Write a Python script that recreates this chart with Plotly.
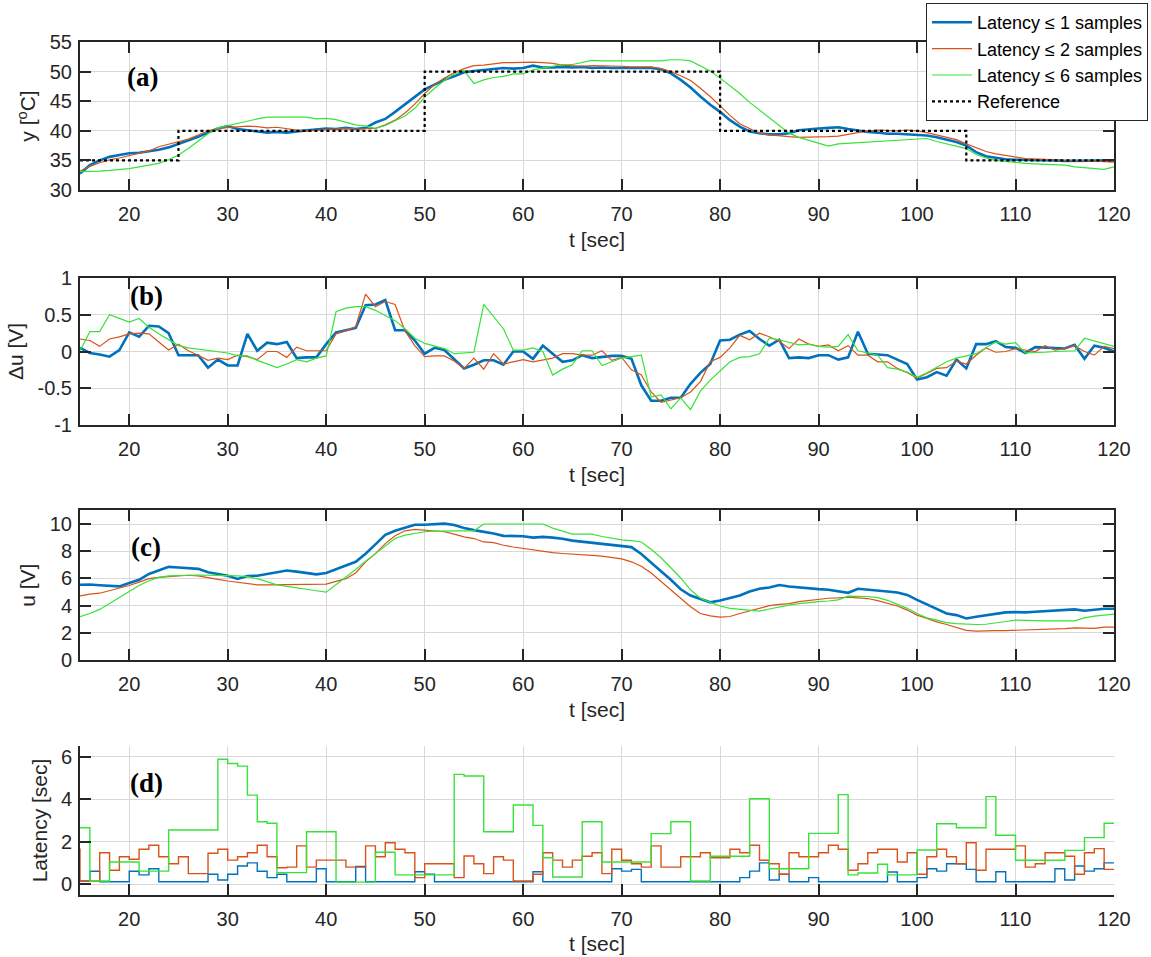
import plotly.graph_objects as go

W, H = 1151, 957
t = list(range(15, 121))

# ---------------- (a) output temperature y [degC] ----------------
y_lat1 = [32.8, 34.2, 35.0, 35.6, 35.9, 36.2, 36.3, 36.5, 36.8, 37.2,
          37.8, 38.3, 39.0, 39.7, 40.4, 40.8, 40.3, 40.1, 39.9, 39.7,
          39.8, 39.7, 39.9, 40.1, 40.3, 40.4, 40.3, 40.5, 40.3, 40.5,
          41.4, 42.0, 43.2, 44.5, 45.8, 47.0, 47.8, 48.6, 49.2, 49.9,
          50.1, 50.3, 50.5, 50.6, 50.5, 50.6, 51.0, 50.7, 50.7, 50.8,
          50.7, 50.8, 50.6, 50.7, 50.6, 50.6, 50.5, 50.6, 50.6, 50.4,
          49.7, 48.6, 47.3, 45.8, 44.4, 43.2, 41.8, 40.7, 39.9, 39.6,
          39.4, 39.4, 39.6, 40.1, 40.3, 40.4, 40.5, 40.6, 40.3, 40.0,
          39.8, 39.7, 39.5, 39.5, 39.4, 39.4, 39.2, 38.9, 38.5, 38.1,
          37.5, 36.4, 35.7, 35.4, 35.2, 35.1, 35.1, 35.0, 35.0, 35.0,
          34.9, 34.9, 34.9, 34.9, 34.9, 35.0]
y_lat2 = [33.2, 34.0, 34.6, 35.1, 35.4, 35.8, 36.2, 36.6, 37.3, 37.7,
          38.1, 38.6, 39.3, 40.0, 40.4, 40.5, 40.6, 40.8, 40.7, 40.5,
          40.6, 40.3, 40.1, 40.0, 40.1, 40.1, 40.2, 40.4, 40.3, 40.3,
          40.4, 41.0, 41.8, 43.0, 44.5, 46.3, 47.8, 48.9, 49.8, 50.5,
          51.0, 51.1, 51.3, 51.5, 51.5, 51.6, 51.6, 51.5, 51.4, 51.1,
          51.0, 50.9, 51.0, 51.0, 50.9, 50.9, 50.8, 50.8, 50.8, 50.5,
          50.0, 49.3, 48.5, 47.2, 45.8, 44.2, 42.6, 41.2, 40.4, 39.6,
          39.3, 39.1, 39.0, 38.9, 38.9, 38.9, 39.0, 39.1, 39.4, 39.8,
          40.0, 40.1, 40.0, 40.0, 40.1, 40.0, 39.7, 39.3, 38.9, 38.5,
          37.8, 37.1, 36.5, 36.1, 35.8, 35.5, 35.3, 35.2, 35.1, 35.1,
          35.0, 35.0, 35.0, 34.9, 34.8, 34.7]
y_lat6 = [33.1, 33.1, 33.2, 33.3, 33.4, 33.6, 33.9, 34.2, 34.5, 35.1,
          35.9, 37.0, 38.2, 39.5, 40.5, 40.9, 41.3, 41.7, 42.0, 42.3,
          42.3, 42.3, 42.4, 42.3, 42.0, 42.1, 41.9, 41.5, 41.0, 40.8,
          40.4, 40.9, 41.7, 42.5, 43.8, 45.7, 47.2, 48.5, 49.6, 50.2,
          48.0, 48.6, 49.0, 49.2, 49.6, 49.6, 50.3, 50.6, 50.9, 51.2,
          51.2, 51.5, 51.9, 51.8, 51.8, 51.8, 51.9, 51.9, 51.9, 51.8,
          52.0, 52.0, 51.8, 51.0, 50.1, 48.9, 47.6, 46.3, 44.8, 43.5,
          42.2, 41.0, 39.6, 38.9, 38.4, 37.9, 37.4, 37.8, 37.9, 38.0,
          38.1, 38.2, 38.3, 38.4, 38.5, 38.7, 38.7, 38.2, 37.8, 37.4,
          37.0, 36.0, 35.4, 35.0, 34.8, 34.6, 34.5, 34.4, 34.3, 34.2,
          34.2, 33.9, 33.8, 33.7, 33.5, 33.9]
ref_t = [15, 25, 50, 80, 105, 120]
ref_v = [35, 40, 50, 40, 35, 35]

# ---------------- (b) control increment du [V] ----------------
du_lat1 = [0.05, -0.02, -0.04, -0.07, 0.02, 0.26, 0.20, 0.35, 0.34, 0.25,
           -0.05, -0.05, -0.05, -0.22, -0.11, -0.19, -0.19, 0.24, 0.01, 0.12,
           0.10, 0.13, -0.09, -0.08, -0.08, 0.10, 0.26, 0.29, 0.32, 0.63,
           0.64, 0.70, 0.29, 0.29, 0.15, -0.03, 0.05, 0.02, -0.10, -0.23,
           -0.18, -0.12, -0.12, -0.18, 0.00, 0.00, -0.10, 0.08, -0.03, -0.14,
           -0.12, -0.05, -0.09, -0.07, -0.06, -0.06, -0.10, -0.46, -0.67, -0.67,
           -0.63, -0.63, -0.44, -0.29, -0.17, 0.15, 0.16, 0.23, 0.28, 0.17,
           0.08, 0.16, -0.09, -0.08, -0.09, -0.05, -0.05, -0.11, -0.08, 0.27,
           -0.03, -0.04, -0.05, -0.11, -0.17, -0.38, -0.35, -0.28, -0.33, -0.11,
           -0.23, 0.10, 0.10, 0.14, 0.06, 0.05, -0.02, 0.06, 0.05, 0.05,
           0.04, 0.09, -0.10, 0.08, 0.05, 0.00]
du_lat2 = [0.17, 0.15, 0.07, 0.17, 0.20, 0.24, 0.25, 0.24, 0.13, 0.02,
           0.10, 0.01, -0.05, -0.12, -0.09, -0.11, -0.05, -0.07, -0.11, 0.00,
           0.00, -0.08, 0.06, 0.01, 0.01, 0.01, 0.24, 0.28, 0.34, 0.78,
           0.61, 0.68, 0.64, 0.28, 0.08, -0.07, -0.06, -0.06, -0.13, -0.23,
           -0.09, -0.24, -0.03, -0.17, -0.14, -0.11, -0.14, -0.11, -0.09, -0.03,
           -0.03, -0.05, -0.05, 0.01, -0.12, -0.08, -0.25, -0.32, -0.55, -0.69,
           -0.66, -0.63, -0.55, -0.41, -0.14, -0.08, 0.05, 0.22, 0.16, 0.25,
           0.20, 0.14, 0.04, 0.17, 0.10, 0.07, 0.09, 0.01, 0.08, -0.05,
           -0.05, -0.14, -0.14, -0.23, -0.29, -0.36, -0.30, -0.23, -0.22, -0.13,
           -0.17, -0.05, 0.05, -0.01, 0.00, 0.04, 0.02, 0.00, 0.08, 0.02,
           0.04, 0.08, 0.00, -0.05, 0.07, 0.04]
du_lat6 = [0.01, 0.27, 0.27, 0.50, 0.45, 0.40, 0.45, 0.33, 0.24, 0.16,
           0.08, 0.05, 0.03, 0.01, -0.01, -0.02, -0.06, -0.06, -0.12, -0.17,
           -0.22, -0.17, -0.11, -0.14, -0.09, -0.06, 0.54, 0.59, 0.61, 0.61,
           0.56, 0.49, 0.42, 0.31, 0.18, 0.11, 0.07, 0.04, -0.03, -0.02,
           -0.01, 0.64, 0.47, 0.31, 0.02, 0.02, 0.05, 0.00, -0.32, -0.24,
           -0.18, 0.01, 0.01, -0.19, -0.14, -0.09, -0.07, -0.05, -0.62, -0.59,
           -0.78, -0.63, -0.79, -0.54, -0.39, -0.26, -0.14, -0.08, -0.07, -0.03,
           0.18, 0.16, 0.13, 0.09, 0.10, 0.07, 0.06, 0.07, 0.23, 0.01,
           -0.02, -0.05, -0.22, -0.24, -0.28, -0.35, -0.29, -0.22, -0.14, -0.09,
           -0.06, -0.03, 0.05, 0.13, 0.10, 0.12, -0.02, -0.02, -0.01, 0.00,
           0.01, 0.01, 0.18, 0.14, 0.10, 0.07]

# ---------------- (c) control signal u [V] ----------------
u_lat1 = [5.53, 5.55, 5.50, 5.45, 5.41, 5.66, 5.90, 6.33, 6.58, 6.85,
          6.80, 6.75, 6.70, 6.45, 6.33, 6.20, 5.96, 6.18, 6.20, 6.33,
          6.45, 6.58, 6.50, 6.40, 6.30, 6.40, 6.65, 6.95, 7.22, 7.82,
          8.50, 9.20, 9.50, 9.75, 9.95, 9.95, 9.98, 10.03, 9.93, 9.70,
          9.55, 9.43, 9.30, 9.13, 9.10, 9.10, 9.00, 9.05, 9.00, 8.92,
          8.78, 8.70, 8.62, 8.53, 8.46, 8.41, 8.30, 7.80, 7.14, 6.52,
          5.90, 5.20, 4.74, 4.47, 4.24, 4.37, 4.54, 4.74, 5.04, 5.24,
          5.33, 5.51, 5.41, 5.33, 5.24, 5.21, 5.16, 5.04, 4.94, 5.24,
          5.19, 5.14, 5.04, 4.96, 4.79, 4.42, 4.09, 3.80, 3.42, 3.30,
          3.05, 3.18, 3.30, 3.42, 3.50, 3.52, 3.50, 3.55, 3.60, 3.62,
          3.65, 3.72, 3.62, 3.72, 3.77, 3.77]
u_lat2 = [4.71, 4.84, 4.91, 5.09, 5.29, 5.48, 5.73, 5.98, 6.08, 6.13,
          6.20, 6.23, 6.18, 6.03, 5.93, 5.81, 5.73, 5.63, 5.53, 5.53,
          5.53, 5.53, 5.56, 5.58, 5.58, 5.58, 5.78, 5.98, 6.40, 7.22,
          7.82, 8.56, 9.13, 9.50, 9.60, 9.55, 9.50, 9.43, 9.26, 9.05,
          8.93, 8.68, 8.63, 8.44, 8.31, 8.21, 8.09, 7.97, 7.89, 7.83,
          7.80, 7.77, 7.69, 7.64, 7.52, 7.44, 7.22, 6.90, 6.40, 5.78,
          5.09, 4.47, 3.92, 3.42, 3.25, 3.15, 3.20, 3.42, 3.60, 3.80,
          4.00, 4.09, 4.14, 4.29, 4.39, 4.47, 4.54, 4.57, 4.62, 4.57,
          4.52, 4.37, 4.19, 3.97, 3.67, 3.30, 3.05, 2.80, 2.61, 2.41,
          2.18, 2.13, 2.16, 2.16, 2.16, 2.18, 2.21, 2.21, 2.26, 2.28,
          2.31, 2.36, 2.36, 2.33, 2.41, 2.41]
u_lat6 = [3.18, 3.42, 3.72, 4.17, 4.59, 5.04, 5.48, 5.83, 6.08, 6.18,
          6.23, 6.23, 6.25, 6.25, 6.23, 6.20, 6.18, 6.13, 5.98, 5.78,
          5.53, 5.41, 5.29, 5.16, 5.09, 4.99, 5.53, 6.08, 6.65, 7.27,
          7.82, 8.39, 8.93, 9.18, 9.33, 9.43, 9.48, 9.50, 9.50, 9.50,
          9.50, 10.0, 10.0, 10.0, 10.0, 10.0, 10.0, 10.0, 9.70, 9.50,
          9.26, 9.26, 9.26, 9.08, 8.96, 8.83, 8.78, 8.68, 8.14, 7.52,
          6.78, 6.03, 5.16, 4.54, 4.24, 3.97, 3.80, 3.72, 3.67, 3.60,
          3.75, 3.92, 4.04, 4.14, 4.24, 4.29, 4.34, 4.42, 4.69, 4.69,
          4.67, 4.59, 4.39, 4.09, 3.80, 3.42, 3.10, 2.93, 2.75, 2.68,
          2.63, 2.61, 2.63, 2.75, 2.83, 2.93, 2.90, 2.88, 2.88, 2.88,
          2.88, 2.88, 3.10, 3.23, 3.30, 3.37]

# ---------------- (d) latency [sec], change points of the stairs ----------------
lat1_t = [15, 16, 17, 20, 21, 22, 23, 28, 29, 30, 31, 32, 33, 34, 35, 36, 39, 40, 43, 44,
          49, 50, 51, 61, 62, 69, 70, 71, 72, 82, 83, 84, 85, 86, 87, 89, 90, 97, 98, 100,
          101, 102, 103, 105, 106, 108, 109, 114, 115, 116, 117, 118, 119, 120]
lat1_v = [0.14, 0.60, 0.11, 0.60, 0.43, 0.72, 0.11, 0.46, 0.19, 0.46, 0.85, 1.00, 0.60, 0.30, 0.46, 0.11, 0.72, 0.11, 0.83, 0.11,
          0.58, 0.46, 0.11, 0.58, 0.11, 0.72, 0.61, 0.69, 0.11, 0.30, 0.61, 1.00, 0.19, 0.46, 0.11, 0.30, 0.11, 0.57, 0.11, 0.30,
          0.72, 0.61, 0.96, 0.69, 0.11, 0.58, 0.11, 0.72, 0.19, 0.85, 0.61, 0.72, 1.00, 1.00]
lat2_t = [14, 15, 17, 18, 19, 20, 21, 22, 23, 24, 25, 26, 28, 29, 30, 31, 32, 33, 34, 35,
          36, 37, 38, 39, 42, 44, 45, 46, 47, 48, 49, 50, 53, 54, 55, 56, 57, 58, 59, 61,
          62, 63, 64, 65, 66, 67, 68, 69, 70, 71, 72, 73, 74, 76, 78, 79, 81, 82, 83, 84,
          85, 86, 87, 88, 90, 91, 92, 93, 94, 95, 96, 98, 99, 100, 101, 102, 103, 104, 105, 106,
          107, 110, 111, 112, 113, 115, 116, 117, 118, 119, 120]
lat2_v = [1.64, 0.14, 1.48, 0.65, 1.29, 1.17, 1.64, 1.83, 1.29, 0.96, 1.29, 0.49, 1.45, 1.64, 1.13, 1.29, 1.48, 1.83, 1.29, 0.77,
          0.80, 1.80, 0.80, 1.13, 0.80, 1.80, 1.29, 1.95, 1.64, 1.48, 0.30, 0.96, 0.30, 1.32, 0.96, 0.49, 1.29, 1.13, 0.14, 0.46,
          1.48, 1.13, 0.80, 1.13, 1.31, 1.48, 0.49, 1.64, 1.12, 0.96, 0.80, 1.80, 0.80, 1.29, 1.48, 1.24, 1.64, 1.48, 1.83, 1.12,
          0.96, 0.46, 1.48, 1.29, 1.48, 1.83, 1.64, 0.65, 0.96, 1.48, 1.64, 1.04, 1.48, 0.46, 1.29, 1.64, 1.29, 0.96, 1.95, 0.65,
          1.64, 1.80, 0.80, 0.96, 1.48, 1.31, 0.46, 1.48, 1.67, 0.69, 0.69]
lat6_t = [15, 16, 18, 21, 24, 29, 30, 31, 32, 33, 34, 35, 38, 41, 45, 47, 53, 54, 56, 59,
          61, 62, 63, 66, 68, 73, 75, 77, 79, 83, 85, 89, 92, 93, 94, 96, 97, 100, 102, 104,
          107, 108, 110, 115, 117, 119, 120]
lat6_v = [2.66, 0.14, 1.04, 0.61, 2.55, 5.89, 5.69, 5.57, 4.20, 2.94, 2.87, 0.54, 2.47, 0.09, 1.50, 0.43, 5.18, 5.10, 2.47, 3.73,
          2.77, 1.24, 0.33, 2.94, 1.04, 2.38, 2.94, 0.14, 1.31, 4.03, 0.72, 2.39, 4.22, 0.43, 0.52, 0.93, 0.43, 1.61, 2.85, 2.66,
          4.13, 2.30, 1.12, 1.59, 2.19, 2.87, 2.87]

names = ["Latency \u2264 1 samples", "Latency \u2264 2 samples", "Latency \u2264 6 samples"]
BLUE, ORANGE, GREEN = "#0072BD", "#D95319", "#36E336"
AX = "#262626"
GRID = "#d8d8d8"
FONT = "Liberation Sans, Arial, sans-serif"

fig = go.Figure()

def add(x, y, color, width, name, show, k, shape="linear", dash="solid"):
    fig.add_trace(go.Scatter(
        x=x, y=y, mode="lines", name=name, showlegend=show,
        line=dict(color=color, width=width, shape=shape, dash=dash),
        xaxis="x" if k == 1 else f"x{k}", yaxis="y" if k == 1 else f"y{k}",
        hoverinfo="skip"))

# (a)
add(t, y_lat1, BLUE, 2.6, names[0], True, 1)
add(t, y_lat2, ORANGE, 1.2, names[1], True, 1)
add(t, y_lat6, GREEN, 1.2, names[2], True, 1)
add(ref_t, ref_v, "black", 2.2, "Reference", True, 1, shape="hv", dash="dot")
# (b)
add(t, du_lat1, BLUE, 2.6, names[0], False, 2)
add(t, du_lat2, ORANGE, 1.2, names[1], False, 2)
add(t, du_lat6, GREEN, 1.2, names[2], False, 2)
# (c)
add(t, u_lat1, BLUE, 2.6, names[0], False, 3)
add(t, u_lat2, ORANGE, 1.2, names[1], False, 3)
add(t, u_lat6, GREEN, 1.2, names[2], False, 3)
# (d)
add(lat1_t, lat1_v, BLUE, 1.4, names[0], False, 4, shape="hv")
add(lat2_t, lat2_v, ORANGE, 1.4, names[1], False, 4, shape="hv")
add(lat6_t, lat6_v, GREEN, 1.4, names[2], False, 4, shape="hv")

X0, X1 = 80 / W, 1114 / W
panels = [  # (top px, bottom px, range, tickvals, ticktext, ytitle, box)
    (42, 190, [30, 55], [30, 35, 40, 45, 50, 55], None, "y [<sup>o</sup>C]", True),
    (278, 425, [-1, 1], [-1, -0.5, 0, 0.5, 1], ["-1", "-0.5", "0", "0.5", "1"], "\u0394u [V]", True),
    (510.4, 660, [0, 11], [0, 2, 4, 6, 8, 10], None, "u [V]", True),
    (746.4, 894.6, [-0.5, 6.5], [0, 2, 4, 6], None, "Latency [sec]", False),
]
tickfont = dict(family=FONT, size=20, color=AX)
titlefont = dict(family=FONT, size=21, color=AX)
layout = {}
for i, (top, bot, rng, tv, tt, ytitle, box) in enumerate(panels, start=1):
    xs = "xaxis" if i == 1 else f"xaxis{i}"
    ys = "yaxis" if i == 1 else f"yaxis{i}"
    yref = "y" if i == 1 else f"y{i}"
    xref = "x" if i == 1 else f"x{i}"
    layout[xs] = dict(
        domain=[X0, X1], anchor=yref, range=[15, 120], automargin=False,
        tickvals=list(range(20, 121, 10)), ticks="inside", ticklen=11, tickwidth=2,
        tickcolor=AX, showline=True, linewidth=2, linecolor=AX, ticklabelstandoff=5,
        mirror="ticks" if box else False, showgrid=True, gridcolor=GRID, gridwidth=1.3,
        zeroline=False, tickfont=tickfont,
        title=dict(text="t [sec]", font=titlefont, standoff=8))
    yd = dict(
        domain=[1 - bot / H, 1 - top / H], anchor=xref, range=rng, automargin=False,
        tickvals=tv, ticks="inside", ticklen=11, tickwidth=2, tickcolor=AX,
        showline=True, linewidth=2, linecolor=AX, ticklabelstandoff=2,
        mirror="ticks" if box else False, showgrid=True, gridcolor=GRID, gridwidth=1.3,
        zeroline=False, tickfont=tickfont,
        title=dict(text=ytitle, font=titlefont, standoff=8))
    if tt is not None:
        yd["ticktext"] = tt
    layout[ys] = yd

labels = ["(a)", "(b)", "(c)", "(d)"]
label_pos = [(142, 77), (146, 296), (146, 547), (146, 783)]
annotations = []
for i, (lab, (px, py)) in enumerate(zip(labels, label_pos), start=1):
    top, bot = panels[i - 1][0], panels[i - 1][1]
    annotations.append(dict(
        text=f"<b>{lab}</b>", x=(px - 80) / (1114 - 80), y=(bot - py) / (bot - top),
        xref=("x" if i == 1 else f"x{i}") + " domain",
        yref=("y" if i == 1 else f"y{i}") + " domain",
        showarrow=False, xanchor="center", yanchor="middle",
        font=dict(family="Liberation Serif, Times New Roman, serif", size=27, color="black")))

fig.update_layout(
    width=W, height=H, autosize=False,
    margin=dict(l=0, r=0, t=0, b=0, autoexpand=False),
    paper_bgcolor="white", plot_bgcolor="white",
    showlegend=True,
    legend=dict(x=1148 / W, y=1 - 3 / H, xanchor="right", yanchor="top",
                bgcolor="white", bordercolor=AX, borderwidth=1,
                font=dict(family=FONT, size=18, color="black"),
                tracegroupgap=0, itemwidth=40),
    annotations=annotations,
    **layout)

fig.write_html("out.html", config={"displayModeBar": False},
               post_script="document.body.style.margin='0px';")
